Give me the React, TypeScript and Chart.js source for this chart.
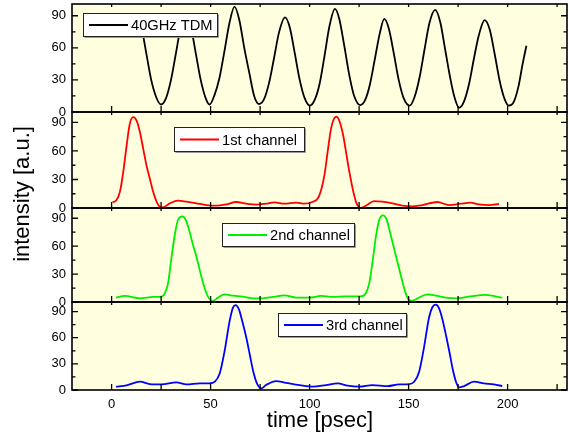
import React, { useEffect, useRef } from 'react';
import { Chart, registerables } from 'chart.js';

Chart.register(...registerables);

// ---------------- data ----------------
const tdmTime = [11, 12.5, 15, 17.5, 20, 22.5, 24.9, 27.5, 30, 32.5, 35, 37.5, 40, 42.5, 45, 47.5, 49.5, 52, 54.5, 57, 59.5, 62.1, 64.5, 67, 69.5, 72, 74.4, 77, 79.5, 82, 84.5, 87.6, 90, 92.5, 95, 97.5, 100.2, 102.5, 105, 107.5, 110, 112.8, 115, 117.5, 120, 122.5, 125.6, 128, 130.5, 133, 135.5, 137.7, 140, 142.5, 145, 147.5, 150.6, 153, 155.5, 158, 160.5, 163.4, 166, 168.5, 171, 173, 175.5, 178, 180.5, 183, 185.5, 188.4, 191, 193.5, 196, 198.5, 200.6, 203, 205.5, 207.5, 209.5];
const tdmIntensity = [86, 90, 80, 55, 30, 14, 7, 13, 30, 55, 80, 90, 80, 55, 30, 13, 7, 16, 32, 57, 83, 98.5, 86, 60, 37, 15, 7.5, 12, 27, 50, 74, 88.5, 79, 55, 30, 13, 6, 11, 26, 52, 80, 96.5, 87, 62, 35, 15, 6.5, 11, 26, 50, 74, 87, 78, 55, 30, 13, 6, 14, 32, 58, 83, 95.5, 84, 58, 32, 15, 4, 10, 26, 50, 72, 86, 77, 54, 29, 12, 6, 9, 24, 44, 62];

const ch1Time = [0.5, 2.5, 4.2, 5.9, 7.6, 9.2, 10.9, 12.6, 14.3, 16, 17.6, 19.3, 21, 22.7, 24.3, 26, 29.4, 33.6, 37.8, 42.8, 47.9, 52.9, 57.9, 63, 68, 73, 78, 82.3, 87.3, 93.2, 97.4, 101.6, 104.1, 105.8, 107.5, 109.1, 110.8, 112.5, 113.7, 115.3, 117, 118.7, 120.4, 122.1, 123.7, 125.9, 128.4, 132.6, 136.8, 141.9, 146.9, 151.9, 157, 164.5, 170.4, 176.3, 181.3, 185.5, 190.6, 195.6];
const ch1Intensity = [5.9, 8.4, 17, 38, 66, 88.6, 95.6, 92, 80, 62, 45, 31, 17, 6.6, 1.4, 0.7, 4.9, 7.7, 6.6, 4.9, 3.1, 2.4, 3.8, 6.3, 4.5, 3.5, 4.5, 5.9, 4.5, 5.6, 4.5, 6.6, 10, 18.8, 34.5, 59, 83, 94.5, 96, 90, 76, 55, 34.5, 17, 4.9, 0, 2.4, 7.3, 6.6, 4.9, 2.4, 1.7, 3.1, 6.3, 3.1, 4.5, 5.6, 3.8, 3.1, 4.2];

const ch2Time = [2.2, 6.7, 14.3, 21, 25.2, 26.9, 28.5, 30.2, 31.9, 33.6, 35.8, 37.4, 39.1, 41.1, 42.8, 44.5, 46.5, 48.7, 51.2, 53.7, 57.1, 61.3, 66.3, 71.4, 76.4, 81.4, 87.3, 93.2, 99.9, 105.8, 111.7, 118.4, 125.9, 128.4, 130.1, 131.8, 133.5, 135.2, 137.2, 138.9, 140.5, 142.2, 143.9, 145.6, 147.3, 149.4, 151.6, 154.5, 159.5, 163.7, 168.7, 174.6, 180.4, 188.9, 197.3];
const ch2Intensity = [4.7, 6.5, 4, 5.4, 5.8, 9.4, 20, 47, 72, 88.5, 92, 88.5, 77.7, 61.5, 49, 34.5, 18.3, 5.8, 1.1, 4.7, 8.3, 6.8, 5.8, 4, 4, 5.4, 7.2, 4.7, 4.7, 6.5, 5.4, 6.1, 6.1, 9.4, 20, 43.5, 70.5, 88.5, 93, 88.5, 76, 61.5, 47, 32.7, 18.3, 4.7, 1.1, 4, 8.3, 6.8, 4.7, 4, 5.8, 7.6, 4.7];

const ch3Time = [2.2, 7.6, 14.3, 19.3, 25.2, 32.7, 37.8, 44.5, 49.5, 52.1, 54.6, 57.1, 59.6, 61.3, 62.6, 64.3, 66, 68, 69.7, 71.4, 73.4, 75.6, 78, 83.1, 88.1, 94.9, 101.6, 108.3, 114.2, 119.2, 125.1, 131.8, 139.4, 145.2, 150.3, 152.8, 155.3, 157.8, 160.3, 162, 163.7, 165.4, 167.1, 169.1, 170.8, 172.4, 174.1, 175.5, 178, 183, 188, 193.1, 197.3];
const ch3Intensity = [3.8, 5.3, 9.5, 6.8, 6.4, 8.7, 6.4, 7.6, 7.6, 9.5, 18.9, 45, 79, 94.5, 97.5, 92.6, 79, 60.5, 41.6, 22.7, 7.6, 1.9, 5.7, 10.2, 8.3, 5.7, 3.8, 5.7, 7.6, 4.9, 3.8, 5.7, 4.5, 6.4, 6.8, 9.5, 20.8, 49, 83, 95, 98, 93.7, 81, 60.5, 41.6, 22.7, 8.3, 3, 4.5, 9.5, 7.6, 6.4, 4.5];

const seriesLabels = ['40GHz TDM', '1st channel', '2nd channel', '3rd channel'];
const xTickLabels = [0, 50, 100, 150, 200];
const xMinorTicks = [0, 25, 50, 75, 100, 125, 150, 175, 200, 225];
const yTickLabels = [0, 30, 60, 90];
const yMinorTicks = [0, 15, 30, 45, 60, 75, 90];
const xTitle = 'time [psec]';
const yTitle = 'intensity [a.u.]';

// ---------------- styles ----------------
const FONT = "'Liberation Sans', Arial, sans-serif";
const BG = '#FFFFE0';

const panels = [
  { axis: 'yA', weight: 108, time: tdmTime, values: tdmIntensity, color: '#000000', label: seriesLabels[0], box: [83, 13, 134, 23] },
  { axis: 'yB', weight: 96, time: ch1Time, values: ch1Intensity, color: '#FF0000', label: seriesLabels[1], box: [174, 127, 130, 24] },
  { axis: 'yC', weight: 94, time: ch2Time, values: ch2Intensity, color: '#00EE00', label: seriesLabels[2], box: [222, 223, 132, 23] },
  { axis: 'yD', weight: 88, time: ch3Time, values: ch3Intensity, color: '#0000FF', label: seriesLabels[3], box: [278, 313, 128, 23] },
];

const zeroPad = (s: any) => {
  s.paddingTop = 0;
  s.paddingBottom = 0;
  s.paddingLeft = 0;
  s.paddingRight = 0;
};

const decorPlugin = {
  id: 'decor',
  beforeDatasetsDraw(chart: any) {
    const { ctx, chartArea: ca } = chart;
    ctx.save();
    ctx.fillStyle = BG;
    ctx.fillRect(ca.left, ca.top, ca.right - ca.left, ca.bottom - ca.top);
    ctx.restore();
  },
  afterDatasetsDraw(chart: any) {
    const { ctx, chartArea: ca } = chart;
    const xs = chart.scales.x;
    ctx.save();
    ctx.strokeStyle = '#000';
    for (const p of panels) {
      const ys = chart.scales[p.axis];
      const top = ys.top;
      const bottom = ys.bottom;
      ctx.lineWidth = 1.3;
      ctx.beginPath();
      for (const v of yMinorTicks) {
        const py = ys.getPixelForValue(v);
        const len = v % 30 === 0 ? 6 : 3.5;
        ctx.moveTo(ca.left, py);
        ctx.lineTo(ca.left + len, py);
        ctx.moveTo(ca.right, py);
        ctx.lineTo(ca.right - len, py);
      }
      for (const v of xMinorTicks) {
        const px = xs.getPixelForValue(v);
        ctx.moveTo(px, bottom);
        ctx.lineTo(px, bottom - 6);
        ctx.moveTo(px, top);
        ctx.lineTo(px, top + 3);
      }
      ctx.stroke();
      ctx.lineWidth = 1.6;
      ctx.strokeRect(ca.left, top, ca.right - ca.left, bottom - top);
    }
    // legends
    ctx.font = `14.7px ${FONT}`;
    ctx.textBaseline = 'middle';
    ctx.textAlign = 'left';
    for (const p of panels) {
      const [bx, by, bw, bh] = p.box;
      ctx.fillStyle = '#fff';
      ctx.fillRect(bx, by, bw, bh);
      ctx.lineWidth = 1;
      ctx.strokeStyle = '#222';
      ctx.strokeRect(bx + 0.5, by + 0.5, bw, bh);
      ctx.strokeStyle = '#999';
      ctx.beginPath();
      ctx.moveTo(bx + 1.5, by + bh + 1.5);
      ctx.lineTo(bx + bw + 1.5, by + bh + 1.5);
      ctx.lineTo(bx + bw + 1.5, by + 1.5);
      ctx.stroke();
      const ly = by + bh / 2 + 0.5;
      ctx.strokeStyle = p.color;
      ctx.lineWidth = 1.8;
      ctx.beginPath();
      ctx.moveTo(bx + 6, ly);
      ctx.lineTo(bx + 45, ly);
      ctx.stroke();
      ctx.fillStyle = '#000';
      ctx.fillText(p.label, bx + 48, ly + 1);
    }
    ctx.restore();
  },
  afterDraw(chart: any) {
    const { ctx } = chart;
    ctx.save();
    ctx.fillStyle = '#000';
    ctx.font = `22px ${FONT}`;
    ctx.textAlign = 'center';
    ctx.textBaseline = 'alphabetic';
    ctx.fillText(xTitle, 320, 427);
    ctx.translate(29, 194);
    ctx.rotate(-Math.PI / 2);
    ctx.fillText(yTitle, 0, 0);
    ctx.restore();
  },
};

function yAxis(weight: number) {
  return {
    type: 'linear',
    position: 'left',
    stack: 'panels',
    stackWeight: weight,
    min: 0,
    max: 101,
    grid: { display: false, drawTicks: false },
    border: { display: false },
    ticks: { font: { family: FONT, size: 13 }, color: '#000', padding: 6, autoSkip: false },
    afterBuildTicks: (s: any) => {
      s.ticks = yTickLabels.map((v) => ({ value: v }));
    },
    afterFit: (s: any) => {
      s.width = 72;
      zeroPad(s);
    },
  };
}

export default function App() {
  const ref = useRef<HTMLCanvasElement>(null);
  useEffect(() => {
    const scales: any = {
      x: {
        type: 'linear',
        position: 'bottom',
        min: -20,
        max: 230,
        grid: { display: false, drawTicks: false },
        border: { display: false },
        ticks: { font: { family: FONT, size: 13 }, color: '#000', padding: 7, autoSkip: false, maxRotation: 0 },
        afterBuildTicks: (s: any) => {
          s.ticks = xTickLabels.map((v) => ({ value: v }));
        },
        afterFit: (s: any) => {
          s.height = 47;
          zeroPad(s);
        },
      },
    };
    // defined bottom-up so the stacked layout places the first panel on top
    for (const p of [...panels].reverse()) scales[p.axis] = yAxis(p.weight);

    const chart = new Chart(ref.current as HTMLCanvasElement, {
      type: 'line',
      data: {
        datasets: panels.map((p) => ({
          label: p.label,
          yAxisID: p.axis,
          data: p.time.map((t, i) => ({ x: t, y: p.values[i] })),
          borderColor: p.color,
          backgroundColor: p.color,
          borderWidth: 1.8,
          pointRadius: 0,
          cubicInterpolationMode: 'monotone',
          fill: false,
        })),
      },
      options: {
        responsive: false,
        animation: false,
        devicePixelRatio: 1,
        layout: { padding: { left: 0, right: 2, top: 4, bottom: 0 } },
        plugins: { legend: { display: false }, tooltip: { enabled: false } },
        events: [],
        scales,
      } as any,
      plugins: [decorPlugin],
    } as any);
    return () => chart.destroy();
  }, []);
  return (
    <div style={{ position: 'fixed', left: 0, top: 0, width: 569, height: 437, background: '#fff' }}>
      <canvas ref={ref} width={569} height={437} style={{ display: 'block', width: 569, height: 437 }} />
    </div>
  );
}
